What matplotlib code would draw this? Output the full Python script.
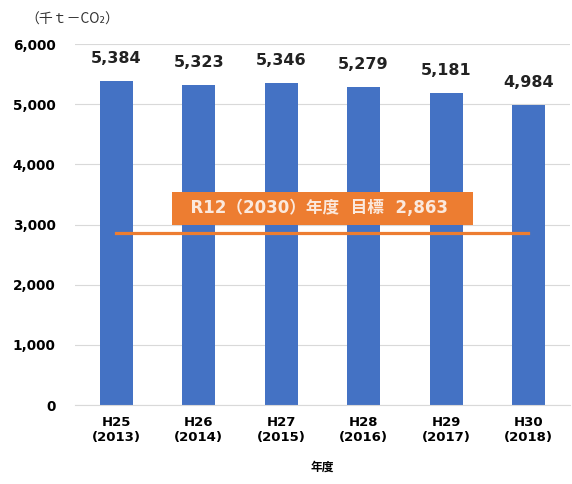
import matplotlib.pyplot as plt
import numpy as np

plt.rcParams['font.family'] = ['DejaVu Sans', 'Noto Sans CJK JP']

years = ['H25\n(2013)', 'H26\n(2014)', 'H27\n(2015)', 'H28\n(2016)', 'H29\n(2017)', 'H30\n(2018)']
emissions = [5384, 5323, 5346, 5279, 5181, 4984]
target = 2863
target_label = '  R12（2030）年度  目標  2,863   '
unit_label = '（千ｔ－CO₂）'

blue = '#4472C4'
orange = '#ED7D31'

fig = plt.figure(figsize=(5.72, 4.84), dpi=100)
ax = fig.add_axes([0.131, 0.163, 0.865, 0.746])

x = np.arange(len(years))
ax.bar(x, emissions, width=0.4, color=blue, zorder=2)

for xi, v in zip(x, emissions):
    ax.text(xi, v + 250, f'{v:,}', ha='center', va='bottom',
            fontsize=11.5, fontweight='bold', color='#222222')

# target line
ax.plot([x[0], x[-1]], [target, target], color=orange, lw=2.3, zorder=3)
ax.text((x[0] + x[-1]) / 2, 3270, target_label, ha='center', va='center',
        fontsize=12, fontweight='bold', color='#FBE9DD', zorder=4,
        bbox=dict(boxstyle='square,pad=0.45', fc=orange, ec='none'))

ax.set_xlim(-0.5, len(years) - 0.5)
ax.set_ylim(0, 6000)
ax.set_yticks(range(0, 6001, 1000))
ax.set_yticklabels([f'{v:,}' for v in range(0, 6001, 1000)],
                   fontsize=9.8, fontweight='bold')
ax.set_xticks(x)
ax.set_xticklabels(years, fontsize=9.5, fontweight='bold')
ax.tick_params(length=0, pad=8)
ax.tick_params(axis='y', pad=14)
ax.grid(axis='y', color='#D9D9D9', lw=0.8, zorder=0)
for s in ['top', 'right', 'left']:
    ax.spines[s].set_visible(False)
ax.spines['bottom'].set_color('#D9D9D9')

ax.set_xlabel('年度', fontsize=8.5, fontweight='bold', labelpad=12)

fig.text(0.045, 0.96, unit_label, fontsize=10, ha='left', va='center',
         color='#333333', family=['Noto Sans CJK JP', 'DejaVu Sans'])

fig.savefig('out.png', dpi=100)
